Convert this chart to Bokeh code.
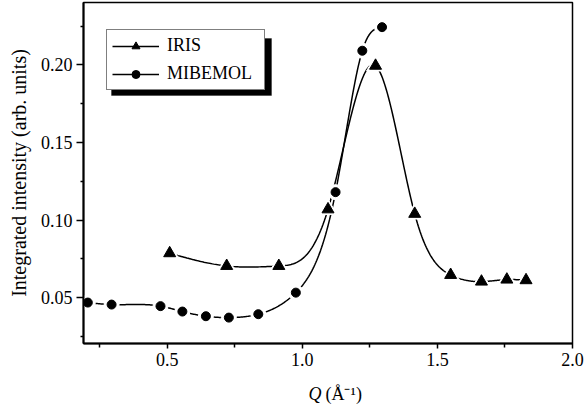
import numpy as np
from bokeh.plotting import figure
from bokeh.models import (Range1d, FixedTicker, PrintfTickFormatter, Legend, LegendItem,
                          Label, BoxAnnotation)
from bokeh.embed import file_html
from bokeh.resources import INLINE

# ---- data ----
iris_q = [0.509, 0.720, 0.913, 1.095, 1.271, 1.416, 1.549, 1.663, 1.757, 1.828]
iris_i = [0.0786, 0.0704, 0.0704, 0.1069, 0.1995, 0.1040, 0.0646, 0.0603, 0.0616, 0.0612]

mib_q = [0.206, 0.294, 0.475, 0.556, 0.643, 0.728, 0.837, 0.976, 1.123, 1.222, 1.295]
mib_i = [0.0468, 0.0455, 0.0445, 0.0410, 0.0380, 0.0371, 0.0393, 0.0532, 0.1180, 0.2092, 0.2244]

x_major = [0.5, 1.0, 1.5, 2.0]
x_minor = [0.25, 0.75, 1.25, 1.75]
y_major = [0.05, 0.10, 0.15, 0.20]
y_minor = [0.025, 0.075, 0.125, 0.175, 0.225]

FONT = "Liberation Serif"


def natural_spline(x, y, per=40):
    """Smooth connecting curve through the data points (natural cubic spline)."""
    x = np.asarray(x, float)
    y = np.asarray(y, float)
    n = len(x)
    h = np.diff(x)
    A = np.zeros((n, n))
    b = np.zeros(n)
    A[0, 0] = 1.0
    A[-1, -1] = 1.0
    for i in range(1, n - 1):
        A[i, i - 1] = h[i - 1]
        A[i, i] = 2 * (h[i - 1] + h[i])
        A[i, i + 1] = h[i]
        b[i] = 6 * ((y[i + 1] - y[i]) / h[i] - (y[i] - y[i - 1]) / h[i - 1])
    M = np.linalg.solve(A, b)
    xs, ys = [], []
    for i in range(n - 1):
        t = np.linspace(x[i], x[i + 1], per, endpoint=(i == n - 2))
        a = x[i + 1] - t
        c = t - x[i]
        s = (M[i] * a ** 3 + M[i + 1] * c ** 3) / (6 * h[i]) \
            + (y[i] / h[i] - M[i] * h[i] / 6) * a \
            + (y[i + 1] / h[i] - M[i + 1] * h[i] / 6) * c
        xs.extend(t)
        ys.extend(s)
    return xs, ys


p = figure(width=584, height=409, output_backend="svg", toolbar_location=None,
           x_range=Range1d(0.19, 2.0), y_range=Range1d(0.0204, 0.2403),
           min_border_left=83, min_border_right=12, min_border_top=2, min_border_bottom=66)
p.background_fill_color = "white"
p.border_fill_color = "white"
p.grid.visible = False
p.outline_line_color = "black"
p.outline_line_width = 1.5

# curves
ix, iy = natural_spline(iris_q, iris_i)
mx, my = natural_spline(mib_q, mib_i)
l_iris = p.line(ix, iy, line_color="black", line_width=1.5)
l_mib = p.line(mx, my, line_color="black", line_width=1.5)

# white halos to give the gap between line and symbol
p.scatter(iris_q, iris_i, marker="triangle", size=18, fill_color="white", line_color="white")
p.scatter(mib_q, mib_i, marker="circle", size=15, fill_color="white", line_color="white")

s_iris = p.scatter(iris_q, iris_i, marker="triangle", size=12, fill_color="black", line_color="black")
s_mib = p.scatter(mib_q, mib_i, marker="circle", size=9, fill_color="black", line_color="black")

# axes
p.xaxis.ticker = FixedTicker(ticks=x_major, minor_ticks=x_minor)
p.yaxis.ticker = FixedTicker(ticks=y_major, minor_ticks=y_minor)
p.xaxis.formatter = PrintfTickFormatter(format="%.1f")
p.yaxis.formatter = PrintfTickFormatter(format="%.2f")
for ax in (p.xaxis, p.yaxis):
    ax.axis_line_width = 2
    ax.axis_line_color = "black"
    ax.major_tick_line_color = "black"
    ax.minor_tick_line_color = "black"
    ax.major_tick_line_width = 1.5
    ax.minor_tick_line_width = 1.5
    ax.major_tick_in = 0
    ax.minor_tick_in = 0
    ax.major_label_text_font = FONT
    ax.major_label_text_font_size = "18px"
    ax.major_label_text_color = "black"
    ax.major_label_standoff = 4
p.xaxis.major_tick_out = 5
p.xaxis.minor_tick_out = 4
p.yaxis.major_tick_out = 7
p.yaxis.minor_tick_out = 3

p.yaxis.axis_label = "Integrated intensity (arb. units)"
p.yaxis.axis_label_text_font = FONT
p.yaxis.axis_label_text_font_style = "normal"
p.yaxis.axis_label_text_font_size = "20px"
p.yaxis.axis_label_text_color = "black"
p.yaxis.axis_label_standoff = 8

# x axis label: italic Q + unit, placed in the panels below the axis
p.add_layout(Label(x=225, y=-5, x_units="screen", y_units="screen", text="Q",
                   text_font=FONT, text_font_style="italic", text_font_size="18px",
                   text_baseline="alphabetic", text_color="black"), "below")
p.add_layout(Label(x=242, y=15, x_units="screen", y_units="screen", text="(Å⁻¹)",
                   text_font=FONT, text_font_size="18px",
                   text_baseline="alphabetic", text_color="black"), "below")

# legend shadow
p.add_layout(BoxAnnotation(left=28, right=188, top=305, bottom=248,
                           left_units="screen", right_units="screen",
                           top_units="screen", bottom_units="screen",
                           fill_color="black", fill_alpha=1.0, line_color="black"))

legend = Legend(items=[LegendItem(label="IRIS", renderers=[l_iris, s_iris]),
                       LegendItem(label="MIBEMOL", renderers=[l_mib, s_mib])],
                location=(23, 253))
legend.border_line_color = "black"
legend.border_line_width = 1.5
legend.background_fill_color = "white"
legend.background_fill_alpha = 1.0
legend.label_text_font = FONT
legend.label_text_font_size = "18px"
legend.label_text_color = "black"
legend.glyph_width = 47
legend.glyph_height = 20
legend.label_height = 20
legend.label_width = 92
legend.label_standoff = 8
legend.padding = 5
legend.spacing = 7
legend.margin = 0
p.add_layout(legend)

open("out.html", "w").write(file_html(p, INLINE))
